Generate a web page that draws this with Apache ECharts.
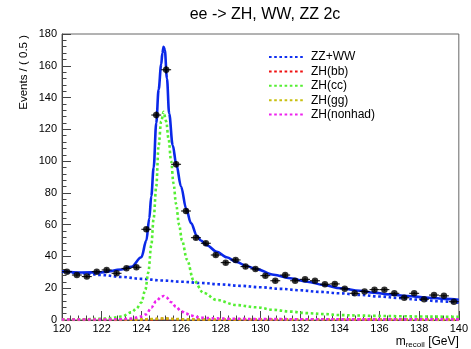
<!DOCTYPE html>
<html>
<head>
<meta charset="utf-8">
<script src="https://cdn.jsdelivr.net/npm/echarts@6/dist/echarts.min.js"></script>
<style>html,body{margin:0;padding:0;background:#fff}#c{width:471px;height:349px}</style>
</head>
<body>
<div id="c"></div>
<script>
// ---- data ----
const binCenters = [120.25,120.75,121.25,121.75,122.25,122.75,123.25,123.75,124.25,124.75,
  125.25,125.75,126.25,126.75,127.25,127.75,128.25,128.75,129.25,129.75,
  130.25,130.75,131.25,131.75,132.25,132.75,133.25,133.75,134.25,134.75,
  135.25,135.75,136.25,136.75,137.25,137.75,138.25,138.75,139.25,139.75];
const counts = [30.4,28.3,27.3,30.4,31.5,29.4,32.5,33.2,57.1,129,
  157.5,98,68.6,51.8,48.3,40.9,36.1,37.8,33.6,32.1,
  27.9,24.7,28.3,24.7,25.6,24.7,22.5,22.7,19.6,16.8,
  18.0,19.1,19.1,16.8,14.0,16.8,13.1,15.7,15.2,11.5];
const countErrs = [1.1,1.1,1.0,1.1,1.1,1.1,1.1,1.2,1.5,2.3,
  2.5,2.0,1.7,1.4,1.4,1.3,1.2,1.2,1.2,1.1,
  1.1,1.0,1.1,1.0,1.0,1.0,0.9,0.9,0.9,0.8,
  0.8,0.9,0.9,0.8,0.8,0.8,0.7,0.8,0.8,0.7];
const binHalfWidth = 0.25;

const totalX = [120,121,122,123,123.5,124,124.25,124.4,124.5,124.62,124.75,124.87,125,125.06,125.12,125.18,125.29,125.4,125.58,125.76,126,126.26,126.5,126.8,127,127.3,127.8,128.3,128.8,129.3,129.8,130.67,131.5,132.36,133.2,134.04,135,135.7,136.5,137.4,138.5,139.3,140];
const totalY = [30.7,29.9,30.0,31.8,33.5,39.5,50,64,78,96,124,145,161,168,172,170,152,130,110,98,84,70,61,53,50,47,43,39.5,36.5,34,32,28.5,26.3,24.1,22,20,18.4,17.2,16.1,15.1,14,13.3,12.7];

const bgX = [120,121,122,123,124,125,126,127,128,129,130,131,132,133,134,135,136,137,138,139,140];
const bgY = [30.4,29.4,28.3,27.1,25.9,24.9,24.1,23.3,22.4,21.5,20.6,19.6,18.7,17.7,16.8,15.8,14.8,13.8,12.8,11.8,10.9];

const ccX = [120,121,122,122.5,123,123.5,123.75,124,124.2,124.35,124.5,124.62,124.75,124.87,125,125.12,125.25,125.37,125.5,125.62,125.75,125.9,126.05,126.3,126.63,127.14,127.8,128.8,129.8,130.67,131.5,132.36,133.2,134.04,135,135.7,137,138,139,140];
const ccY = [0.2,0.4,0.8,1.2,2.2,4.8,7.2,11,19,30,47,64,84,110,125,131,125,114,100,86,73,60,50,38,25,17,12.6,9.4,8,6.4,5.3,4.3,3.7,3.1,2.8,2.6,2.4,2.2,2.1,2.0];

const nhX = [120,122,123,123.5,124,124.25,124.5,124.75,125,125.12,125.25,125.5,125.75,126,126.25,126.5,126.8,127.2,127.8,128.5,130,132,135,140];
const nhY = [0.3,0.3,0.5,0.9,2.2,3.6,7.8,11.8,14.6,15.1,14.3,11.2,8.3,5.6,4.0,2.8,1.8,1.3,1.0,0.8,0.6,0.5,0.4,0.4];

const bbX = [120,123,124,124.5,125,125.12,125.3,125.7,126.2,127,130,140];
const bbY = [0.1,0.1,0.2,0.4,0.7,0.8,0.7,0.5,0.3,0.2,0.15,0.1];
const ggX = [120,123,124,124.5,125,125.12,125.3,125.7,126.2,127,130,140];
const ggY = [0.3,0.3,0.4,0.6,0.9,1.0,0.9,0.6,0.4,0.35,0.3,0.25];

const xTicks = {min:120, max:140, interval:2};
const yTicks = {min:0, max:180, interval:20};
// ---------------------------------------

const zip = (xs, ys) => xs.map((x, i) => [x, ys[i]]);
const FONT = 'Liberation Sans, Arial, Helvetica, sans-serif';
const dotted = (name, color, xs, ys, z) => ({
  name, type: 'line', data: zip(xs, ys), symbol: 'none', smooth: 0.35, smoothMonotone: 'x',
  lineStyle: {color, width: 2.6, type: [2.6, 2.6]}, itemStyle: {color}, z, silent: true
});

const chart = echarts.init(document.getElementById('c'), null, {renderer: 'canvas'});
chart.setOption({
  animation: false,
  backgroundColor: '#fff',
  textStyle: {fontFamily: FONT},
  title: {
    text: 'ee -> ZH, WW, ZZ 2c', left: 260, top: 2, textAlign: 'center',
    textStyle: {fontSize: 16, fontWeight: 'normal', color: '#000', fontFamily: FONT}
  },
  legend: {
    orient: 'vertical', left: 268, top: 51, padding: 0, itemWidth: 35, itemHeight: 10, itemGap: 2.4,
    data: ['ZZ+WW', 'ZH(bb)', 'ZH(cc)', 'ZH(gg)', 'ZH(nonhad)'],
    itemStyle: {opacity: 0, color: 'rgba(0,0,0,0)', borderWidth: 0},
    textStyle: {fontSize: 12, color: '#000', fontFamily: FONT, lineHeight: 12, padding: [0,0,0,2]},
    selectedMode: false
  },
  grid: {left: 62, right: 12, top: 34, bottom: 29, show: true, borderColor: '#666', borderWidth: 1},
  xAxis: {
    type: 'value', min: xTicks.min, max: xTicks.max, interval: xTicks.interval,
    axisLine: {lineStyle: {color: '#444', width: 1}},
    axisTick: {inside: true, length: 9, lineStyle: {color: '#444'}},
    minorTick: {show: true, splitNumber: 5, length: 4.5, lineStyle: {color: '#444'}},
    splitLine: {show: false},
    axisLabel: {fontSize: 11, color: '#000', margin: 3, fontFamily: FONT},
    name: '{m|m}{s|recoil}{m| [GeV]}', nameLocation: 'end', nameGap: 0,
    nameTextStyle: {align: 'right', verticalAlign: 'top', padding: [15, 0, 0, 0],
      rich: {m: {fontSize: 12, color: '#000', fontFamily: FONT},
             s: {fontSize: 8, color: '#000', fontFamily: FONT, padding: [6, 0, 0, 0]}}}
  },
  yAxis: {
    type: 'value', min: yTicks.min, max: yTicks.max, interval: yTicks.interval,
    axisLine: {show: true, lineStyle: {color: '#444', width: 1}},
    axisTick: {show: true, inside: true, length: 9, lineStyle: {color: '#444'}},
    minorTick: {show: true, splitNumber: 5, length: 4.5, lineStyle: {color: '#444'}},
    splitLine: {show: false},
    axisLabel: {fontSize: 11, color: '#000', margin: 5, fontFamily: FONT},
    name: 'Events / ( 0.5 )', nameLocation: 'end', nameRotate: 90, nameGap: -1,
    nameTextStyle: {fontSize: 11.5, color: '#000', align: 'right', verticalAlign: 'bottom',
      padding: [0, 0, 32, 0], fontFamily: FONT}
  },
  series: [
    dotted('ZZ+WW', '#1030f0', bgX, bgY, 3),
    dotted('ZH(bb)', '#f01010', bbX, bbY, 3),
    dotted('ZH(cc)', '#55ee33', ccX, ccY, 3),
    dotted('ZH(gg)', '#c8c010', ggX, ggY, 3),
    dotted('ZH(nonhad)', '#ee22ee', nhX, nhY, 3),
    {
      name: 'Fit', type: 'line', data: zip(totalX, totalY), symbol: 'none', smooth: 0.35,
      smoothMonotone: 'x', lineStyle: {color: '#0a28e8', width: 2.6}, z: 4, silent: true
    },
    {
      name: 'errors', type: 'custom', z: 5, silent: true,
      data: binCenters.map((x, i) => [x, counts[i], countErrs[i]]),
      renderItem: (params, api) => {
        const x = api.value(0), y = api.value(1), e = api.value(2);
        const l = api.coord([x - binHalfWidth, y]), r = api.coord([x + binHalfWidth, y]);
        const t = api.coord([x, y + e]), b = api.coord([x, y - e]);
        return {type: 'group', children: [
          {type: 'line', shape: {x1: l[0], y1: l[1], x2: r[0], y2: r[1]}, style: {stroke: '#000', lineWidth: 1}},
          {type: 'line', shape: {x1: t[0], y1: t[1], x2: b[0], y2: b[1]}, style: {stroke: '#000', lineWidth: 1}}
        ]};
      }
    },
    {
      name: 'Data', type: 'scatter', data: zip(binCenters, counts), symbol: 'circle', symbolSize: 6.5,
      itemStyle: {color: '#000'}, z: 6, silent: true
    }
  ]
});
</script>
</body>
</html>
